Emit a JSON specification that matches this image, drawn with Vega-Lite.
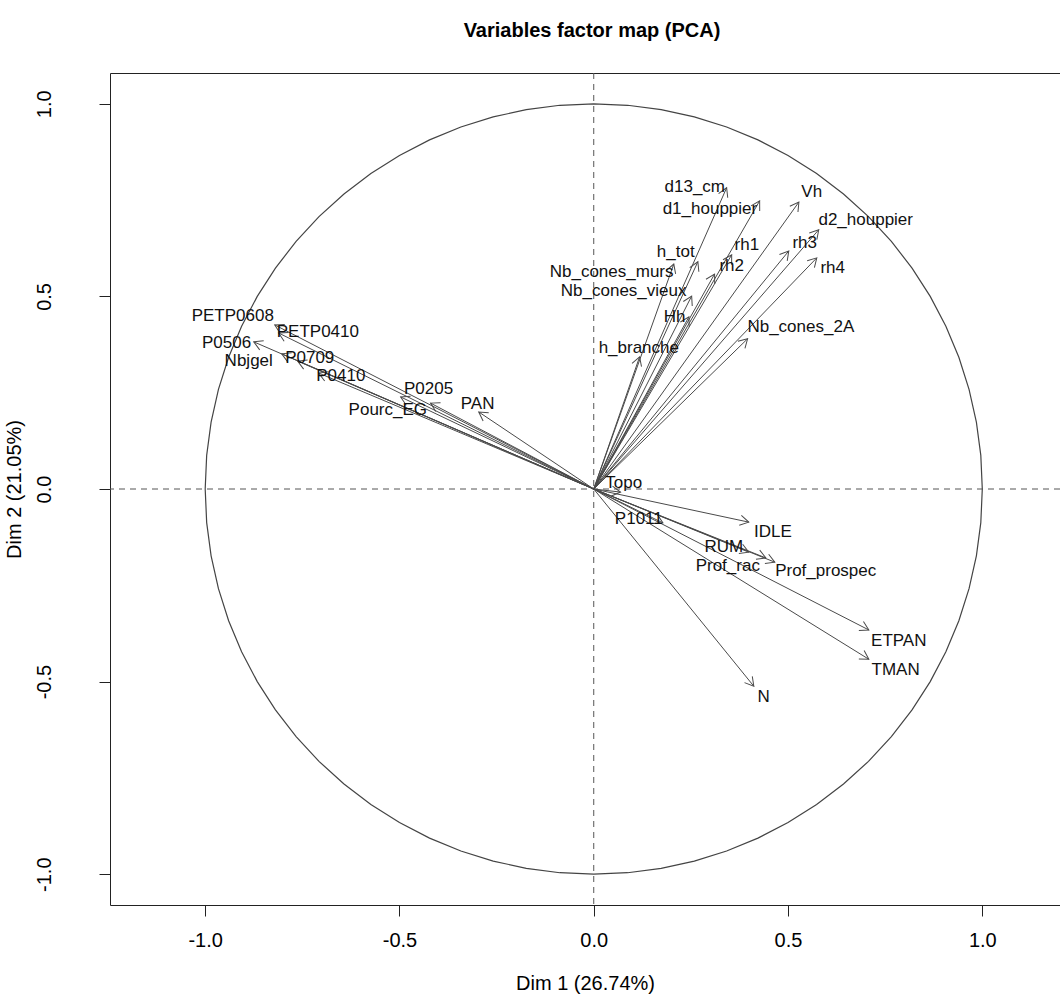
{
  "$schema": "https://vega.github.io/schema/vega-lite/v6.json",
  "width": 950,
  "height": 832,
  "autosize": "none",
  "padding": {"left": 110, "top": 73, "right": 0, "bottom": 102},
  "background": "white",
  "title": {"text": "Variables factor map (PCA)", "fontSize": 20, "fontWeight": "bold", "font": "Liberation Sans", "color": "#000", "anchor": "middle", "frame": "group", "offset": 32, "dx": 7},
  "config": {
    "view": {"stroke": "#222", "strokeWidth": 1},
    "font": "Liberation Sans",
    "axis": {"grid": false, "domain": false, "tickColor": "#222", "tickSize": 11, "labelFontSize": 20, "labelColor": "#000", "titleFontSize": 20, "titleFontWeight": "normal", "titleColor": "#000", "labelFont": "Liberation Sans", "titleFont": "Liberation Sans"}
  },
  "datasets": {
    "circle": [
      {"t":0,"cx":1,"cy":0},{"t":5,"cx":0.9962,"cy":0.0872},{"t":10,"cx":0.9848,"cy":0.1736},{"t":15,"cx":0.9659,"cy":0.2588},{"t":20,"cx":0.9397,"cy":0.342},{"t":25,"cx":0.9063,"cy":0.4226},{"t":30,"cx":0.866,"cy":0.5},{"t":35,"cx":0.8192,"cy":0.5736},{"t":40,"cx":0.766,"cy":0.6428},{"t":45,"cx":0.7071,"cy":0.7071},{"t":50,"cx":0.6428,"cy":0.766},{"t":55,"cx":0.5736,"cy":0.8192},{"t":60,"cx":0.5,"cy":0.866},{"t":65,"cx":0.4226,"cy":0.9063},{"t":70,"cx":0.342,"cy":0.9397},{"t":75,"cx":0.2588,"cy":0.9659},{"t":80,"cx":0.1736,"cy":0.9848},{"t":85,"cx":0.0872,"cy":0.9962},
      {"t":90,"cx":0,"cy":1},{"t":95,"cx":-0.0872,"cy":0.9962},{"t":100,"cx":-0.1736,"cy":0.9848},{"t":105,"cx":-0.2588,"cy":0.9659},{"t":110,"cx":-0.342,"cy":0.9397},{"t":115,"cx":-0.4226,"cy":0.9063},{"t":120,"cx":-0.5,"cy":0.866},{"t":125,"cx":-0.5736,"cy":0.8192},{"t":130,"cx":-0.6428,"cy":0.766},{"t":135,"cx":-0.7071,"cy":0.7071},{"t":140,"cx":-0.766,"cy":0.6428},{"t":145,"cx":-0.8192,"cy":0.5736},{"t":150,"cx":-0.866,"cy":0.5},{"t":155,"cx":-0.9063,"cy":0.4226},{"t":160,"cx":-0.9397,"cy":0.342},{"t":165,"cx":-0.9659,"cy":0.2588},{"t":170,"cx":-0.9848,"cy":0.1736},{"t":175,"cx":-0.9962,"cy":0.0872},
      {"t":180,"cx":-1,"cy":0},{"t":185,"cx":-0.9962,"cy":-0.0872},{"t":190,"cx":-0.9848,"cy":-0.1736},{"t":195,"cx":-0.9659,"cy":-0.2588},{"t":200,"cx":-0.9397,"cy":-0.342},{"t":205,"cx":-0.9063,"cy":-0.4226},{"t":210,"cx":-0.866,"cy":-0.5},{"t":215,"cx":-0.8192,"cy":-0.5736},{"t":220,"cx":-0.766,"cy":-0.6428},{"t":225,"cx":-0.7071,"cy":-0.7071},{"t":230,"cx":-0.6428,"cy":-0.766},{"t":235,"cx":-0.5736,"cy":-0.8192},{"t":240,"cx":-0.5,"cy":-0.866},{"t":245,"cx":-0.4226,"cy":-0.9063},{"t":250,"cx":-0.342,"cy":-0.9397},{"t":255,"cx":-0.2588,"cy":-0.9659},{"t":260,"cx":-0.1736,"cy":-0.9848},{"t":265,"cx":-0.0872,"cy":-0.9962},
      {"t":270,"cx":0,"cy":-1},{"t":275,"cx":0.0872,"cy":-0.9962},{"t":280,"cx":0.1736,"cy":-0.9848},{"t":285,"cx":0.2588,"cy":-0.9659},{"t":290,"cx":0.342,"cy":-0.9397},{"t":295,"cx":0.4226,"cy":-0.9063},{"t":300,"cx":0.5,"cy":-0.866},{"t":305,"cx":0.5736,"cy":-0.8192},{"t":310,"cx":0.6428,"cy":-0.766},{"t":315,"cx":0.7071,"cy":-0.7071},{"t":320,"cx":0.766,"cy":-0.6428},{"t":325,"cx":0.8192,"cy":-0.5736},{"t":330,"cx":0.866,"cy":-0.5},{"t":335,"cx":0.9063,"cy":-0.4226},{"t":340,"cx":0.9397,"cy":-0.342},{"t":345,"cx":0.9659,"cy":-0.2588},{"t":350,"cx":0.9848,"cy":-0.1736},{"t":355,"cx":0.9962,"cy":-0.0872},{"t":360,"cx":1,"cy":0}
    ],
    "vars": [
      {"name":"d13_cm","x":0.342,"y":0.782,"lx":0.260,"ly":0.784},
      {"name":"d1_houppier","x":0.427,"y":0.748,"lx":0.299,"ly":0.727},
      {"name":"Vh","x":0.528,"y":0.745,"lx":0.561,"ly":0.771},
      {"name":"d2_houppier","x":0.579,"y":0.673,"lx":0.700,"ly":0.699},
      {"name":"rh1","x":0.355,"y":0.608,"lx":0.394,"ly":0.634},
      {"name":"rh3","x":0.502,"y":0.618,"lx":0.543,"ly":0.639},
      {"name":"rh2","x":0.311,"y":0.558,"lx":0.355,"ly":0.579},
      {"name":"rh4","x":0.574,"y":0.600,"lx":0.615,"ly":0.574},
      {"name":"h_tot","x":0.268,"y":0.590,"lx":0.211,"ly":0.616},
      {"name":"Nb_cones_murs","x":0.206,"y":0.584,"lx":0.046,"ly":0.564},
      {"name":"Nb_cones_vieux","x":0.252,"y":0.501,"lx":0.077,"ly":0.514},
      {"name":"Hh","x":0.245,"y":0.447,"lx":0.208,"ly":0.447},
      {"name":"h_branche","x":0.118,"y":0.343,"lx":0.116,"ly":0.366},
      {"name":"Nb_cones_2A","x":0.396,"y":0.390,"lx":0.533,"ly":0.421},
      {"name":"PETP0608","x":-0.821,"y":0.426,"lx":-0.929,"ly":0.449},
      {"name":"PETP0410","x":-0.811,"y":0.405,"lx":-0.710,"ly":0.408},
      {"name":"P0506","x":-0.875,"y":0.382,"lx":-0.945,"ly":0.379},
      {"name":"Nbjgel","x":-0.803,"y":0.351,"lx":-0.888,"ly":0.332},
      {"name":"P0709","x":-0.762,"y":0.332,"lx":-0.731,"ly":0.340},
      {"name":"P0410","x":-0.708,"y":0.301,"lx":-0.651,"ly":0.294},
      {"name":"P0205","x":-0.420,"y":0.223,"lx":-0.425,"ly":0.260},
      {"name":"Pourc_EG","x":-0.497,"y":0.239,"lx":-0.530,"ly":0.205},
      {"name":"PAN","x":-0.296,"y":0.200,"lx":-0.299,"ly":0.221},
      {"name":"Topo","x":0.069,"y":-0.008,"lx":0.077,"ly":0.016},
      {"name":"P1011","x":0.178,"y":-0.088,"lx":0.116,"ly":-0.078},
      {"name":"IDLE","x":0.399,"y":-0.086,"lx":0.461,"ly":-0.112},
      {"name":"RUM","x":0.399,"y":-0.164,"lx":0.335,"ly":-0.151},
      {"name":"Prof_rac","x":0.443,"y":-0.179,"lx":0.345,"ly":-0.200},
      {"name":"Prof_prospec","x":0.466,"y":-0.190,"lx":0.597,"ly":-0.213},
      {"name":"ETPAN","x":0.708,"y":-0.366,"lx":0.785,"ly":-0.395},
      {"name":"TMAN","x":0.708,"y":-0.442,"lx":0.777,"ly":-0.470},
      {"name":"N","x":0.412,"y":-0.512,"lx":0.437,"ly":-0.540}
    ]
  },
  "layer": [
    {
      "data": {"name": "circle"},
      "mark": {"type": "line", "stroke": "#444", "strokeWidth": 1.2, "clip": true},
      "encoding": {
        "x": {"field": "cx", "type": "quantitative", "title": "Dim 1 (26.74%)", "scale": {"domain": [-1.245, 1.2], "nice": false, "zero": false},
              "axis": {"values": [-1, -0.5, 0, 0.5, 1], "labelExpr": "datum.value < 0 ? '-' + format(-datum.value, '.1f') : format(datum.value, '.1f')", "title": "Dim 1 (26.74%)", "labelPadding": 14, "titlePadding": 23}},
        "y": {"field": "cy", "type": "quantitative", "title": "Dim 2 (21.05%)", "scale": {"domain": [-1.08, 1.08], "nice": false, "zero": false},
              "axis": {"values": [-1, -0.5, 0, 0.5, 1], "labelExpr": "datum.value < 0 ? '-' + format(-datum.value, '.1f') : format(datum.value, '.1f')", "title": "Dim 2 (21.05%)", "labelAngle": -90, "labelAlign": "center", "labelBaseline": "bottom", "labelPadding": 45, "titlePadding": 10}},
        "order": {"field": "t", "type": "quantitative"}
      }
    },
    {
      "data": {"values": [{"v": 0}]},
      "mark": {"type": "rule", "stroke": "#555", "strokeWidth": 1, "strokeDash": [6, 5]},
      "encoding": {"x": {"field": "v", "type": "quantitative", "title": "Dim 1 (26.74%)"}}
    },
    {
      "data": {"values": [{"v": 0}]},
      "mark": {"type": "rule", "stroke": "#555", "strokeWidth": 1, "strokeDash": [6, 5]},
      "encoding": {"y": {"field": "v", "type": "quantitative", "title": "Dim 2 (21.05%)"}}
    },
    {
      "data": {"name": "vars"},
      "mark": {"type": "rule", "stroke": "#4a4a4a", "strokeWidth": 1},
      "encoding": {
        "x": {"field": "x", "type": "quantitative", "title": "Dim 1 (26.74%)"},
        "y": {"field": "y", "type": "quantitative", "title": "Dim 2 (21.05%)"},
        "x2": {"datum": 0},
        "y2": {"datum": 0}
      }
    },
    {
      "data": {"name": "vars"},
      "transform": [{"calculate": "atan2(datum.x, datum.y) * 180 / PI", "as": "ang"}],
      "mark": {"type": "point", "shape": "M-0.5,0.866L0,0L0.5,0.866", "filled": false, "stroke": "#4a4a4a", "strokeWidth": 1, "size": 400, "opacity": 1},
      "encoding": {
        "x": {"field": "x", "type": "quantitative", "title": "Dim 1 (26.74%)"},
        "y": {"field": "y", "type": "quantitative", "title": "Dim 2 (21.05%)"},
        "angle": {"field": "ang", "type": "quantitative", "scale": null}
      }
    },
    {
      "data": {"name": "vars"},
      "mark": {"type": "text", "fontSize": 17, "font": "Liberation Sans", "color": "#111", "align": "center", "baseline": "middle"},
      "encoding": {
        "x": {"field": "lx", "type": "quantitative", "title": "Dim 1 (26.74%)"},
        "y": {"field": "ly", "type": "quantitative", "title": "Dim 2 (21.05%)"},
        "text": {"field": "name"}
      }
    }
  ]
}
